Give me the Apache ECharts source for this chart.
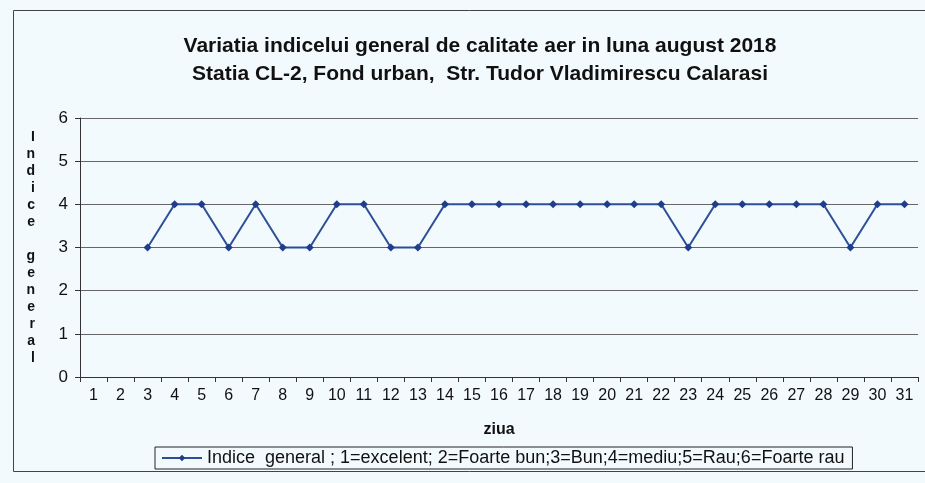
<!DOCTYPE html>
<html><head><meta charset="utf-8">
<script src="https://cdn.jsdelivr.net/npm/echarts@6/dist/echarts.min.js"></script>
<style>html,body{margin:0;padding:0;background:#f3fafd}#c{width:925px;height:483px}</style>
</head><body><div id="c"></div>
<script>
var days = ['1','2','3','4','5','6','7','8','9','10','11','12','13','14','15','16','17','18','19','20','21','22','23','24','25','26','27','28','29','30','31'];
var indiceGeneral = [null,null,3,4,4,3,4,3,3,4,4,3,3,4,4,4,4,4,4,4,4,4,3,4,4,4,4,4,3,4,4];
var yTicks = [0,1,2,3,4,5,6];
var titleLine1 = 'Variatia indicelui general de calitate aer in luna august 2018';
var titleLine2 = 'Statia CL-2, Fond urban,  Str. Tudor Vladimirescu Calarasi';
var seriesName = 'Indice  general ; 1=excelent; 2=Foarte bun;3=Bun;4=mediu;5=Rau;6=Foarte rau';
var yName = 'Indice general';
var xName = 'ziua';

var chart = echarts.init(document.getElementById('c'));
var font = 'Liberation Sans, Arial, sans-serif';
chart.setOption({
  backgroundColor: '#f3fafd',
  animation: false,
  title: {
    text: titleLine1 + '\n' + titleLine2,
    left: 475, top: 27, textAlign: 'center',
    textStyle: {fontFamily: font, fontWeight: 'bold', fontSize: 21, lineHeight: 28, color: '#111'}
  },
  graphic: [{
    type: 'rect', shape: {x: 13.5, y: 10.5, width: 1000, height: 461},
    style: {fill: 'none', stroke: '#444', lineWidth: 1}, silent: true
  }],
  legend: {
    data: [{name: seriesName}],
    left: 155, top: 447,
    padding: [2, 8, 2, 6],
    borderColor: '#222', borderWidth: 1,
    itemWidth: 40, itemHeight: 8, itemGap: 4,
    textStyle: {fontFamily: font, fontSize: 18, color: '#111'}
  },
  grid: {left: 80, right: 7, top: 118, bottom: 106},
  xAxis: {
    type: 'category', data: days, boundaryGap: true,
    name: xName, nameLocation: 'middle', nameGap: 45,
    nameTextStyle: {fontFamily: font, fontWeight: 'bold', fontSize: 16, color: '#111'},
    axisLine: {lineStyle: {color: '#333', width: 1}},
    axisTick: {show: true, alignWithLabel: false, length: 5, lineStyle: {color: '#333'}},
    axisLabel: {fontFamily: font, fontSize: 16, color: '#111', margin: 11, interval: 0}
  },
  yAxis: {
    type: 'value', min: 0, max: 6, interval: 1,
    name: yName.split('').map(function(c){return c === ' ' ? '' : c;}).join('\n'),
    nameLocation: 'middle', nameRotate: 0, nameGap: 45,
    nameTextStyle: {fontFamily: font, fontWeight: 'bold', fontSize: 14, lineHeight: 17, color: '#111'},
    axisLine: {show: true, lineStyle: {color: '#333', width: 1}},
    axisTick: {show: true, length: 5, lineStyle: {color: '#333'}},
    axisLabel: {fontFamily: font, fontSize: 17, color: '#111', margin: 12,
      formatter: function(v){ return yTicks.indexOf(v) >= 0 ? String(v) : ''; }},
    splitLine: {show: true, lineStyle: {color: '#666', width: 1}}
  },
  series: [{
    name: seriesName, type: 'line', data: indiceGeneral,
    connectNulls: false,
    symbol: 'diamond', symbolSize: 8,
    lineStyle: {color: '#2d4f98', width: 2},
    itemStyle: {color: '#1f3d8a'}
  }]
});
</script></body></html>
